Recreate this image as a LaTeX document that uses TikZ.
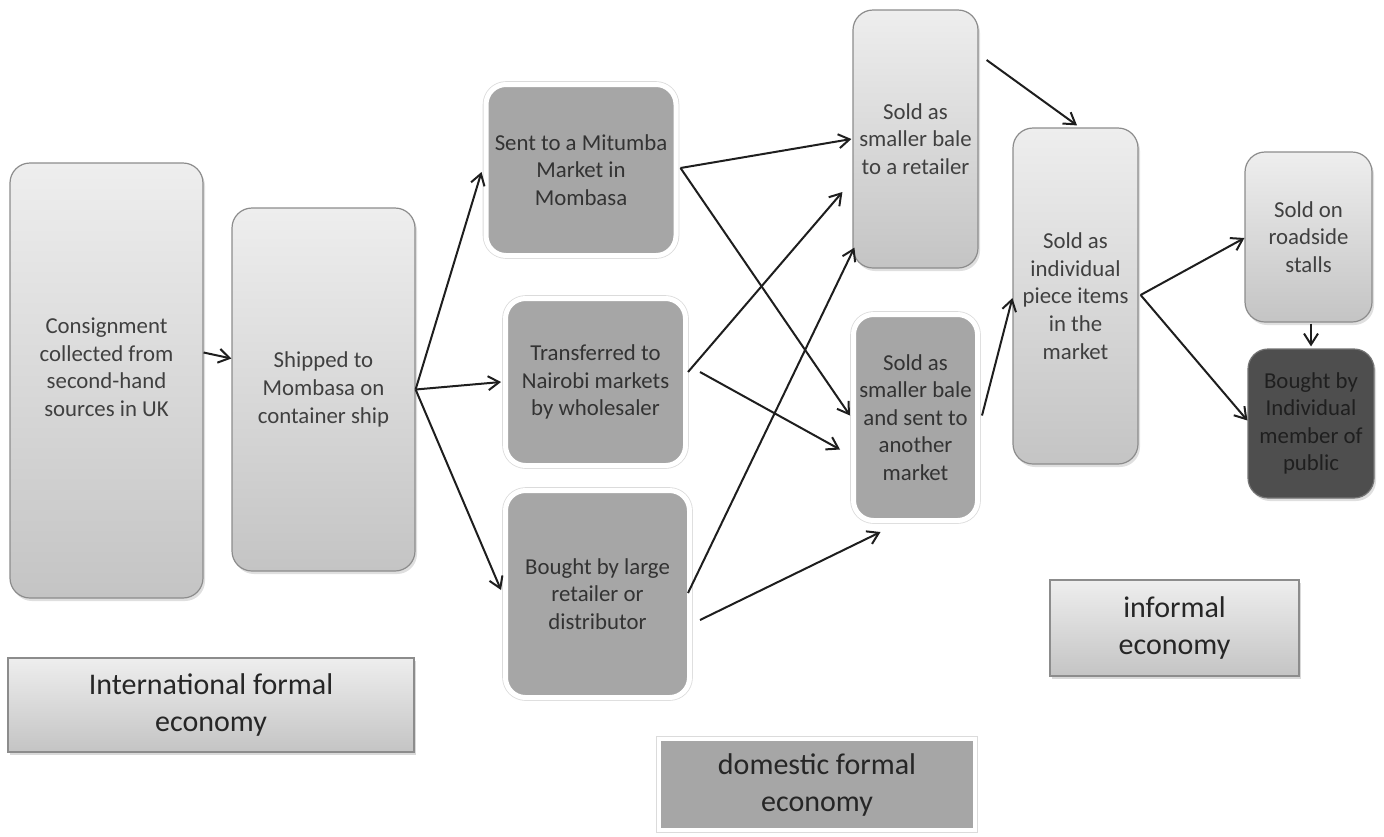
\documentclass[tikz,border=0pt]{standalone}
\usepackage{fontspec}
\setmainfont{Carlito}
\usetikzlibrary{arrows.meta,calc,shadows}
\definecolor{lt}{RGB}{238,238,238}
\definecolor{lb}{RGB}{196,196,196}
\definecolor{bd}{RGB}{140,140,140}
\definecolor{dk}{RGB}{166,166,166}
\definecolor{dd}{RGB}{78,78,78}
\definecolor{tx}{RGB}{64,64,64}
\definecolor{ar}{RGB}{30,30,30}
\begin{document}
\begin{tikzpicture}[x=0.5pt,y=-0.5pt,
  base/.style={align=center,inner sep=0pt,font=\fontsize{11.4}{13.8}\selectfont,rounded corners=10pt},
  lightbox/.style={base,draw=bd,line width=0.6pt,top color=lt,bottom color=lb,text=tx,
    drop shadow={opacity=0.25,shadow xshift=1pt,shadow yshift=-1.5pt}},
  darkbox/.style={base,draw=white,line width=2.5pt,fill=dk,text=black!80,
    drop shadow={opacity=0.2,shadow xshift=0.8pt,shadow yshift=-1.2pt},
    preaction={draw=black!14,line width=3.3pt}},
  publicbox/.style={base,draw=black!55,line width=0.6pt,fill=dd,text=black!88,
    drop shadow={opacity=0.25,shadow xshift=1pt,shadow yshift=-1.5pt}},
  legend/.style={align=center,inner sep=0pt,font=\fontsize{15}{18.5}\selectfont,text=black!85},
  leglight/.style={legend,draw=bd,line width=0.6pt,top color=lt,bottom color=lb,
    drop shadow={opacity=0.3,shadow xshift=1pt,shadow yshift=-1.5pt}},
  legdark/.style={legend,draw=white,line width=2pt,fill=dk,
    drop shadow={opacity=0.2,shadow xshift=0.8pt,shadow yshift=-1.2pt},
    preaction={draw=black!14,line width=2.8pt}},
  conn/.style={draw=ar,line width=1pt,-{Straight Barb[length=5.5pt,width=7pt]}}
]
\useasboundingbox (0,0) rectangle (1384,836);

% process boxes
\node[lightbox,minimum width=96.5pt,minimum height=217.5pt] (cons) at (106.5,380.5)
  {\raisebox{0pt}[\height][\dimexpr\depth+11pt\relax]{\begin{tabular}{@{}c@{}}Consignment\\collected from\\second-hand\\sources in UK\end{tabular}}};
\node[lightbox,minimum width=91.5pt,minimum height=181.5pt] (ship) at (323.5,389.5)
  {Shipped to\\Mombasa on\\container ship};
\node[darkbox,minimum width=95pt,minimum height=85.5pt] (mit) at (581,170)
  {Sent to a Mitumba\\Market in\\Mombasa};
\node[darkbox,minimum width=90pt,minimum height=83.5pt] (trans) at (595.5,382)
  {Transferred to\\Nairobi markets\\by wholesaler};
\node[darkbox,minimum width=92pt,minimum height=103.5pt] (large) at (597.5,594)
  {Bought by large\\retailer or\\distributor};
\node[lightbox,minimum width=62.5pt,minimum height=129pt] (baleR) at (915.5,139)
  {Sold as\\smaller bale\\to a retailer};
\node[darkbox,minimum width=62pt,minimum height=103pt] (baleA) at (915.5,417.5)
  {Sold as\\smaller bale\\and sent to\\another\\market};
\node[lightbox,minimum width=62.5pt,minimum height=168pt] (indiv) at (1075.5,296)
  {Sold as\\individual\\piece items\\in the\\market};
\node[lightbox,minimum width=63.5pt,minimum height=85pt] (road) at (1308.5,237)
  {Sold on\\roadside\\stalls};
\node[publicbox,minimum width=63pt,minimum height=74.5pt] (public) at (1311,423.5)
  {Bought by\\Individual\\member of\\public};

% legend boxes
\node[leglight,minimum width=203pt,minimum height=47pt] (intl) at (211,705)
  {International formal\\economy};
\node[legdark,minimum width=158pt,minimum height=45.5pt] (dom) at (817,784.5)
  {domestic formal\\economy};
\node[leglight,minimum width=124.5pt,minimum height=48pt] (inf) at (1174.5,628)
  {informal\\economy};

% connectors
\draw[conn] ($(cons.east)+(0,-28)$) -- ($(ship.west)+(0,-31)$);
\draw[conn] (ship.east) -- ($(mit.west)+(-2,2)$);
\draw[conn] (ship.east) -- ($(trans.west)+(-2,0)$);
\draw[conn] (ship.east) -- ($(large.west)+(-2,-4)$);
\draw[conn] ($(mit.east)+(2,-2)$) -- ($(baleR.west)+(-1,0)$);
\draw[conn] ($(mit.east)+(2,-2)$) -- ($(baleA.west)+(-1,-2)$);
\draw[conn] ($(trans.east)+(0,-10)$) -- ($(baleR.west)+(-10,53)$);
\draw[conn] ($(trans.east)+(12,-10)$) -- ($(baleA.west)+(-11,32)$);
\draw[conn] ($(large.east)+(-4,-1)$) -- ($(baleR.south west)+(2,-21)$);
\draw[conn] ($(large.east)+(8,26)$) -- ($(baleA.south)+(-35,9)$);
\draw[conn] ($(baleR.east)+(8,-79)$) -- ($(indiv.north)+(1.5,-2)$);
\draw[conn] ($(baleA.east)+(2,-2)$) -- ($(indiv.west)+(0,2)$);
\draw[conn] ($(indiv.east)+(2,-1)$) -- ($(road.west)+(0,1)$);
\draw[conn] ($(indiv.east)+(2,-1)$) -- ($(public.west)+(0,-3)$);
\draw[conn] ($(road.south)+(2.5,1)$) -- ($(public.north)+(0,-2)$);
\end{tikzpicture}
\end{document}
